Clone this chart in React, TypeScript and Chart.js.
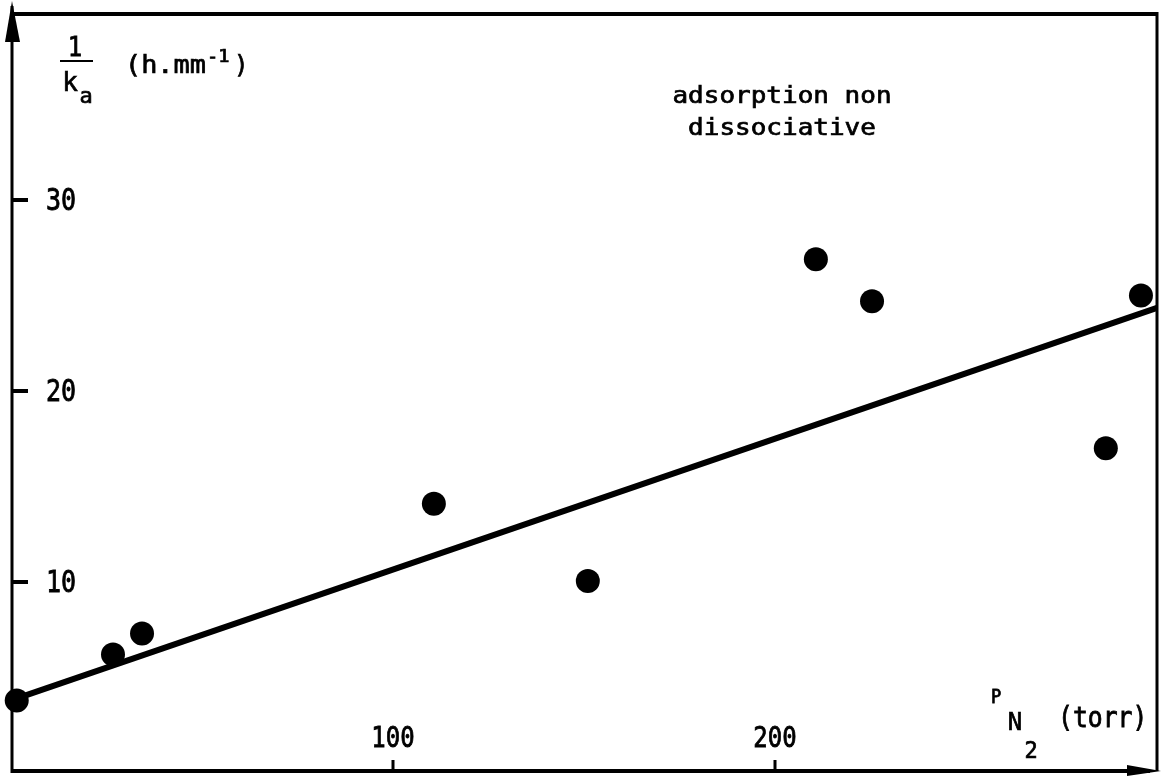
import React, { useEffect, useRef } from "react";
import { Chart, registerables } from "chart.js";

Chart.register(...registerables);

// Measured points: P_N2 (torr) vs 1/k_a (h.mm^-1)
const pressure = [1.5, 26.7, 34.3, 110.7, 151, 210.7, 225.4, 286.6, 295.8];
const invKa = [3.8, 6.2, 7.3, 14.1, 10.05, 26.9, 24.7, 17.0, 25.0];
// Fitted straight line (end points)
const fitX = [0, 300];
const fitY = [3.8, 24.35];
const xTickValues = [100, 200];
const yTickValues = [10, 20, 30];

const MONO = '"DejaVu Sans Mono", "Liberation Mono", monospace';

function drawText(
  ctx: CanvasRenderingContext2D,
  text: string,
  x: number,
  y: number,
  size: number,
  align: CanvasTextAlign,
  sx = 1,
  sy = 1
) {
  ctx.save();
  ctx.translate(x, y);
  ctx.scale(sx, sy);
  ctx.font = `${size}px ${MONO}`;
  ctx.textAlign = align;
  ctx.textBaseline = "alphabetic";
  ctx.fillText(text, 0, 0);
  ctx.lineWidth = 0.7;
  ctx.strokeText(text, 0, 0);
  ctx.restore();
}

const decorPlugin = {
  id: "decor",
  afterDatasetsDraw(chart: any) {
    const { ctx, scales } = chart;
    const xs = scales.x;
    const ys = scales.y;
    const left = 12;
    const right = 1157;
    const top = 14;
    const bottom = 771;
    ctx.save();
    ctx.strokeStyle = "#000";
    ctx.fillStyle = "#000";
    ctx.lineCap = "butt";

    // frame
    ctx.lineWidth = 4;
    ctx.beginPath();
    ctx.moveTo(left, top);
    ctx.lineTo(right, top);
    ctx.stroke();
    ctx.beginPath();
    ctx.moveTo(left, bottom);
    ctx.lineTo(1150, bottom);
    ctx.stroke();
    ctx.lineWidth = 3;
    ctx.beginPath();
    ctx.moveTo(left, 6);
    ctx.lineTo(left, bottom + 2);
    ctx.stroke();
    ctx.beginPath();
    ctx.moveTo(right, top - 2);
    ctx.lineTo(right, bottom);
    ctx.stroke();

    // arrow heads
    ctx.beginPath();
    ctx.moveTo(left, 1);
    ctx.lineTo(left - 7, 42);
    ctx.lineTo(left + 8, 42);
    ctx.closePath();
    ctx.fill();
    ctx.beginPath();
    ctx.moveTo(1161, bottom);
    ctx.lineTo(1127, bottom - 6);
    ctx.lineTo(1127, bottom + 5);
    ctx.closePath();
    ctx.fill();

    // y ticks + labels
    yTickValues.forEach((v) => {
      const py = ys.getPixelForValue(v);
      ctx.fillRect(left, py - 2, 16, 4);
      drawText(ctx, String(v), 46, py + 10, 25, "left", 1, 1.2);
    });
    // x ticks + labels
    xTickValues.forEach((v) => {
      const px = xs.getPixelForValue(v);
      ctx.fillRect(px - 1.5, bottom - 11, 3, 11);
      drawText(ctx, String(v), px, 747, 24, "center", 1, 1.2);
    });

    // y axis title: 1/k_a (h.mm^-1)
    drawText(ctx, "1", 75, 56, 24, "center", 1, 1.1);
    ctx.fillRect(60, 60, 33, 2);
    drawText(ctx, "k", 70, 91, 26, "center");
    drawText(ctx, "a", 86, 103, 22, "center");
    drawText(ctx, "(h.mm", 125, 73, 24, "left", 1.12, 1.05);
    drawText(ctx, "-1", 207, 62, 17, "left", 1.1);
    drawText(ctx, ")", 234, 73, 24, "left", 1, 1.05);

    // x axis title: P_N2 (torr)
    drawText(ctx, "P", 996, 703, 17, "center", 1, 1.1);
    drawText(ctx, "N", 1015, 730, 24, "center", 1, 1.05);
    drawText(ctx, "2", 1031, 758, 22, "center", 1, 1.05);
    drawText(ctx, "(torr)", 1058, 727, 24, "left", 1.03, 1.15);

    // annotation
    drawText(ctx, "adsorption non", 782, 103, 23, "center", 1.13);
    drawText(ctx, "dissociative", 782, 135, 23, "center", 1.13);

    ctx.restore();
  },
};

export default function App() {
  const ref = useRef<HTMLCanvasElement | null>(null);
  useEffect(() => {
    if (!ref.current) return;
    const chart = new Chart(ref.current, {
      type: "scatter",
      data: {
        datasets: [
          {
            label: "fit",
            data: fitX.map((x, i) => ({ x, y: fitY[i] })),
            showLine: true,
            borderColor: "#000",
            borderWidth: 6,
            pointRadius: 0,
            clip: false as any,
          },
          {
            label: "mesures",
            data: pressure.map((x, i) => ({ x, y: invKa[i] })),
            backgroundColor: "#000",
            borderColor: "#000",
            pointRadius: 12,
            pointBorderWidth: 0,
            clip: false as any,
          },
        ],
      },
      options: {
        responsive: false,
        animation: false,
        layout: { autoPadding: false, padding: { left: 11, right: 4, top: 9, bottom: 5 } },
        plugins: { legend: { display: false }, tooltip: { enabled: false } },
        scales: {
          x: { type: "linear", min: 0, max: 300, display: false },
          y: { type: "linear", min: 0, max: 40, display: false },
        },
      },
      plugins: [decorPlugin],
    });
    return () => chart.destroy();
  }, []);
  return (
    <div style={{ position: "fixed", left: 0, top: 0, width: 1161, height: 778, background: "#fff" }}>
      <canvas ref={ref} width={1161} height={778} />
    </div>
  );
}
